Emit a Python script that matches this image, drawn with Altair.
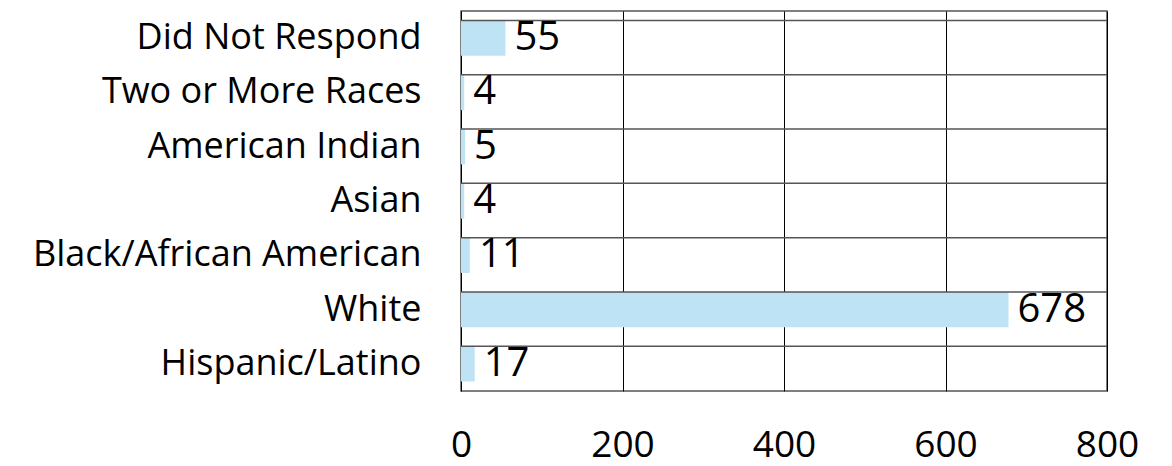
import altair as alt
import pandas as pd

categories = ["Did Not Respond", "Two or More Races", "American Indian", "Asian",
              "Black/African American", "White", "Hispanic/Latino"]
values = [55, 4, 5, 4, 11, 678, 17]
x_ticks = [0, 200, 400, 600, 800]

df = pd.DataFrame({"cat": categories, "val": values})

FONT = "Open Sans"

y_enc = alt.Y(
    "cat:N", sort=categories, title=None,
    scale=alt.Scale(paddingInner=0.35, paddingOuter=0.175),
    axis=alt.Axis(labelFont=FONT, labelFontSize=36, labelColor="#000", labelLimit=0,
                  labelPadding=40, ticks=False, domain=False, grid=False),
)
x_enc = alt.X(
    "val:Q", title=None,
    scale=alt.Scale(domain=[0, 800], nice=False),
    axis=alt.Axis(values=x_ticks, grid=True, gridColor="#000", gridWidth=1,
                  ticks=False, domain=False, labelFont=FONT, labelFontSize=37,
                  labelFlush=False, labelPadding=36, labelColor="#000"),
)

base = alt.Chart(df)

bars = base.mark_bar(color="#BEE3F4").encode(x=x_enc, y=y_enc)

rules = base.mark_rule(color="#555", strokeWidth=1.5).encode(
    y=alt.Y("cat:N", sort=categories, bandPosition=0)
)

labels = base.mark_text(align="left", baseline="middle", dx=9,
                        fontSize=40, font=FONT, color="#000").encode(
    x="val:Q", y=alt.Y("cat:N", sort=categories), text="val:Q"
)

chart = (
    alt.layer(bars, rules, labels)
    .properties(width=646, height=380,
                autosize=alt.AutoSizeParams(type="none"),
                padding={"left": 453, "top": 3, "right": 50, "bottom": 75})
    .configure_view(stroke="#555", strokeWidth=1.5)
)

chart.save("out.html", embed_options={"renderer": "svg", "actions": False})
